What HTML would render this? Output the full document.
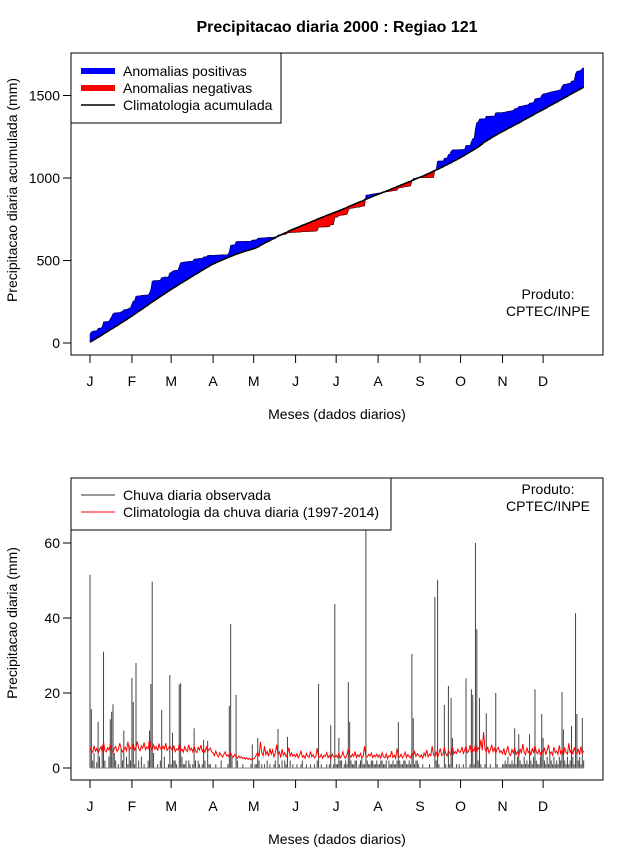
<!DOCTYPE html>
<html><head><meta charset="utf-8">
<style>
body{margin:0;background:#fff;}
svg{display:block;font-family:"Liberation Sans",Arial,sans-serif;}
</style></head>
<body>
<svg id="chart" width="640" height="850" xmlns="http://www.w3.org/2000/svg">
<text x="337" y="32" text-anchor="middle" font-size="16" font-weight="bold">Precipitacao diaria 2000 : Regiao 121</text>
<g id="top"></g>
<g id="bot"></g>
</svg>
<script>
const monthLabels = ["J","F","M","A","M","J","J","A","S","O","N","D"];
const monthStartDays = [0,31,60,91,121,152,182,213,244,274,305,335];
const topTicks = [0,500,1000,1500];
const botTicks = [0,20,40,60];
const obsJan=[51.5,15.7,2,4,0,1.5,12.3,3,0,6,31,2,0,0,3,13,15,17,4,2,0,1,0,5,2,10,0,3,1,6,2];
const obsFeb=[24,17.6,1,28,0,2,0,3,0,1,0,0,2,10,22.4,49.7,4,0,0,1,0,2,15.5,0,3,0,0,1,24.8];
const obsMar=[1,9.4,2,2,1,0,22.3,22.6,3,1,1,2,0,2,1,0,1,10.6,2,0,2,1,0,1,7.5,2,0,7.2,1,1,0];
const obsApr=[0,0,1,0,0,0,2,0,0,0,0,1,16.5,38.4,3,0,0,19.5,2,0,0,0,1,0,0,0,0,0,1,6.3];
const obsMay=[0,1,1,8,2,0,1,0,1,0,2,0,1,0,0,1,2,0,10.4,1,0,2,0,2,1,8.3,0,2,0,1,0];
const obsJun=[0,1,0,0,1,2,0,0,1,0,0,1,0,0,1,0,2,22.4,0,1,0,0,0,1,0,1,11.4,0,1,43.7];
const obsJul=[1,1,8,2,2,0,1,2,1,22.9,12.3,2,1,1,2,2,0,1,2,3,1,1,64,2,1,1,2,2,1,1,2];
const obsAug=[1,1,2,2,1,1,2,0,2,1,1,2,1,1,2,12.3,2,1,1,2,2,1,1,2,1,30.4,13.3,1,2,2,1];
const obsSep=[0,0,1,0,0,0,0,1,0,0,0,45.6,2,50.2,1,0,0,0,16.8,1,0,21.9,1,18.7,8,0,0,1,0,1];
const obsOct=[0,0,1,0,23.9,0,0,1,21,19.5,1,60,37,2,18.7,1,0,0,1,14.6,0,0,1,0,0,0,20,1,0,0,0];
const obsNov=[1,1,2,1,3,1,1,2,1,10.6,1,3,9,2,1,1,3,1,2,1,9,2,1,3,21,2,1,1,3,14.4];
const obsDec=[8,2,1,3,1,4,2,1,3,1,2,1,3,2,20.3,10.3,2,1,3,1,2,11.2,3,1,41.3,14.4,2,3,1,13.3,2];
const climJan=[5.4,4.6,4.2,5.9,4.5,5.2,4,4.9,5.6,4.4,6.9,4.7,4.3,5.4,4.8,6.2,4.5,4.1,5.3,5.7,4.4,5,6.6,5.2,4.3,4.9,5.5,4.6,7,4.8,5.4];
const climFeb=[5.1,6.4,4.8,5.5,7,5.2,4.6,5.9,5.3,6.8,4.9,5.6,5.1,7.7,5.4,4.8,6.2,5,5.7,4.6,6.5,5.2,4.9,5.8,5.1,6.6,4.7,5.3,5.9];
const climMar=[5.2,4.6,6,4.4,5.1,4.8,6.4,4.5,5,4.2,5.7,4.9,4.4,6.2,4.7,5.3,4.3,5.8,4.6,4.1,5.5,4.8,6.1,4.4,5,4.2,5.6,4.5,4.9,5.3,4.3];
const climApr=[4,3.3,4.5,3.5,3,4.1,3.4,2.9,3.7,4.3,3.2,3.5,2.8,4,3.2,2.9,3.6,3,2.6,3.2,2.7,3,2.5,2.8,2.4,2.7,2.3,2.6,2.2,2.5];
const climMay=[2.4,2.8,3.5,4.2,3,7,4.1,3.3,5.8,3.6,4.4,3.1,5.2,3.7,4.8,3,3.9,6.2,3.5,4.3,2.8,5,3.4,4.1,3,3.8,5.4,3.2,4,3.1,3.6];
const climJun=[3,3.8,2.7,3.4,4.6,2.9,3.3,2.6,3.9,3.1,2.8,4.4,3,3.5,2.7,3.2,5.3,3,2.9,3.6,2.6,3.4,3.1,4.1,2.8,3.3,2.5,3.7,3,2.9];
const climJul=[3.4,2.8,3.9,2.7,3.2,4.3,3,2.6,3.6,5.1,3.3,2.9,3.7,3.1,4.4,2.8,3.5,3,3.9,2.7,3.2,5.8,3.1,2.9,3.6,3.2,4,2.8,3.4,3,3.7];
const climAug=[2.9,3.5,2.6,4.1,3,2.7,3.8,2.5,3.3,3,4.5,2.8,3.4,2.6,5.2,3.1,2.9,3.7,2.7,3.2,4.2,2.8,3.6,3,2.7,3.9,3.3,4.4,3.1,3.8,3.4];
const climSep=[2.9,3.5,2.6,4,3.2,4.8,3,3.7,3.3,5.8,3.4,3.1,4.2,2.8,3.9,5.2,3.3,3.6,5.5,3.8,3.2,4.6,4,3.4,5.7,3.7,4.4,3.9,5,4.2];
const climOct=[4.3,5.6,3.9,4.7,5.9,4.1,4.5,6.1,4,5.1,4.6,6.3,4.2,5.4,4.9,7.5,4.7,9.6,5.1,4.3,5.7,4,4.8,6.2,4.4,5.3,3.9,5,5.5,4.1,4.6];
const climNov=[3.8,5.2,3.4,4.6,5.8,3.7,3.3,4.9,4,5.4,3.6,4.4,3.2,5.1,3.9,6.4,4.2,3.5,5.5,4.1,4.7,3.4,5.3,4,6,4.3,3.8,5,3.5,4.6];
const climDec=[4,5.4,3.5,4.7,6.2,3.8,4.3,3.4,5.6,4.1,4.5,3.6,6,3.9,4.8,3.5,5.3,4.2,3.7,6.6,4,5,3.6,5.5,4.2,3.8,5.1,3.5,5.7,3.9,4.6];

const obs=[].concat(obsJan,obsFeb,obsMar,obsApr,obsMay,obsJun,obsJul,obsAug,obsSep,obsOct,obsNov,obsDec);
const clim=[].concat(climJan,climFeb,climMar,climApr,climMay,climJun,climJul,climAug,climSep,climOct,climNov,climDec);

const NS="http://www.w3.org/2000/svg";
function mk(tag,attrs,parent,txt){const e=document.createElementNS(NS,tag);for(const k in attrs)e.setAttribute(k,attrs[k]);if(txt!==undefined)e.textContent=txt;parent.appendChild(e);return e;}
const xDay=d=>90+d*1.3525;
const yTop=v=>343-v*0.165;
const yBot=v=>768-v*3.75;

function frame(g,y0,y1,ticks,yf,ytitle,ytitleY){
  let e=mk('rect',{x:71,y:y0,width:532,height:y1-y0,fill:'none',stroke:'#000','stroke-width':1},g);
  
  
  ticks.forEach(t=>{
    const y=yf(t);
    let l=mk('line',{x1:63,x2:71,y1:y,y2:y,stroke:'#000'},g);
    
    
    let tx=mk('text',{x:60,y:y+5,'text-anchor':'end','font-size':14},g,String(t));
    
    
  });
  monthStartDays.forEach((d,i)=>{
    const x=xDay(d);
    let l=mk('line',{x1:x,x2:x,y1:y1,y2:y1+8,stroke:'#000'},g);
    
    
    let tx=mk('text',{x:x,y:y1+31,'text-anchor':'middle','font-size':14},g,monthLabels[i]);
    
    
  });
  let xt=mk('text',{x:337,y:y1+64,'text-anchor':'middle','font-size':14},g,'Meses (dados diarios)');
  
  
  let yt=mk('text',{x:0,y:0,'text-anchor':'middle','font-size':14,transform:`translate(17,${ytitleY}) rotate(-90)`},g,ytitle);
  
  
}

// top panel
const gt=document.getElementById('top');
let co=[],cc=[],so=0,sc=0;
for(let i=0;i<obs.length;i++){so+=obs[i];sc+=clim[i];co.push(so);cc.push(sc);}
for(let i=0;i<co.length-1;i++){
  const d0=co[i]-cc[i],d1=co[i+1]-cc[i+1];
  const col=(d0+d1)>=0?'#0000ff':'#ff0000';
  const pts=`${xDay(i)},${yTop(co[i])} ${xDay(i+1)},${yTop(co[i+1])} ${xDay(i+1)},${yTop(cc[i+1])} ${xDay(i)},${yTop(cc[i])}`;
  const p=mk('polygon',{points:pts,fill:col,stroke:col,'stroke-width':0.6},gt);
  
  
}
let op=mk('polyline',{points:co.map((v,i)=>`${xDay(i)},${yTop(v)}`).join(' '),fill:'none',stroke:'#000','stroke-width':0.5},gt);


let cl=mk('polyline',{points:cc.map((v,i)=>`${xDay(i)},${yTop(v)}`).join(' '),fill:'none',stroke:'#000','stroke-width':1.6},gt);


frame(gt,53,355,topTicks,yTop,'Precipitacao diaria acumulada (mm)',190);

// top legend
let lg=mk('g',{},gt);


mk('rect',{x:71,y:53,width:210,height:70,fill:'#fff',stroke:'#000'},lg);
const topLeg=[['Anomalias positivas','#0000ff',6],['Anomalias negativas','#ff0000',6],['Climatologia acumulada','#000',1.5]];
topLeg.forEach((it,i)=>{
  const y=71+i*17;
  let e=mk('line',{x1:81,x2:115,y1:y,y2:y,stroke:it[1],'stroke-width':it[2]},lg);
  
  
  let t=mk('text',{x:123,y:y+5,'font-size':14},lg,it[0]);
  
  
});
let p1=mk('text',{x:548,y:299,'text-anchor':'middle','font-size':14},gt,'Produto:');


let p2=mk('text',{x:548,y:316,'text-anchor':'middle','font-size':14},gt,'CPTEC/INPE');



// bottom panel
const gb=document.getElementById('bot');
obs.forEach((v,i)=>{
  if(v<=0)return;
  const l=mk('line',{x1:xDay(i),x2:xDay(i),y1:yBot(0),y2:yBot(v),stroke:'#444','stroke-width':1},gb);
  
  
});
let base=mk('line',{x1:xDay(0),x2:xDay(365),y1:yBot(0),y2:yBot(0),stroke:'#888','stroke-width':1},gb);


let rl=mk('polyline',{points:clim.map((v,i)=>`${xDay(i)},${yBot(v)}`).join(' '),fill:'none',stroke:'#ff0000','stroke-width':1},gb);


frame(gb,478,780,botTicks,yBot,'Precipitacao diaria (mm)',623);
let lb=mk('g',{},gb);


mk('rect',{x:71,y:478,width:320,height:52,fill:'#fff',stroke:'#000'},lb);
const botLeg=[['Chuva diaria observada','#333'],['Climatologia da chuva diaria (1997-2014)','#ff0000']];
botLeg.forEach((it,i)=>{
  const y=495+i*17;
  let e=mk('line',{x1:81,x2:115,y1:y,y2:y,stroke:it[1],'stroke-width':1},lb);
  
  
  let t=mk('text',{x:123,y:y+5,'font-size':14},lb,it[0]);
  
  
});
let q1=mk('text',{x:548,y:494,'text-anchor':'middle','font-size':14},gb,'Produto:');


let q2=mk('text',{x:548,y:511,'text-anchor':'middle','font-size':14},gb,'CPTEC/INPE');


</script>
</body></html>
